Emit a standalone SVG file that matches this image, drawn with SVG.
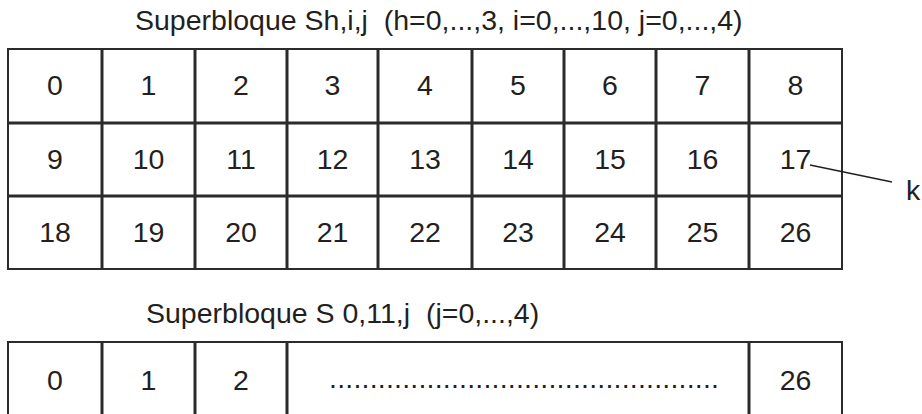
<svg xmlns="http://www.w3.org/2000/svg" width="922" height="414" viewBox="0 0 922 414">
<style>
text{font-family:"Liberation Sans",Arial,sans-serif;font-size:28.5px;fill:#231f20}
.c{text-anchor:middle}
.outer{fill:none;stroke:#2b2b2b;stroke-width:2}
.inner{stroke:#2b2b2b;stroke-width:3}
.lead{stroke:#231f20;stroke-width:1.5;fill:none}
</style>
<rect width="922" height="414" fill="#ffffff"/>
<g id="title1"><text x="135" y="30" xml:space="preserve">Superbloque Sh,i,j  (h=0,...,3, i=0,...,10, j=0,...,4)</text></g>
<g id="table1">
<rect class="outer" x="8" y="49" width="834" height="220"/>
<g class="inner">
<line x1="102" y1="49" x2="102" y2="269"/>
<line x1="195" y1="49" x2="195" y2="269"/>
<line x1="287" y1="49" x2="287" y2="269"/>
<line x1="378" y1="49" x2="378" y2="269"/>
<line x1="472" y1="49" x2="472" y2="269"/>
<line x1="564" y1="49" x2="564" y2="269"/>
<line x1="656" y1="49" x2="656" y2="269"/>
<line x1="749" y1="49" x2="749" y2="269"/>
<line x1="8" y1="123" x2="842" y2="123"/>
<line x1="8" y1="196" x2="842" y2="196"/>
</g>
<g class="c">
<text x="55" y="95">0</text><text x="148.5" y="95">1</text><text x="241" y="95">2</text><text x="332.5" y="95">3</text><text x="425" y="95">4</text><text x="518" y="95">5</text><text x="610" y="95">6</text><text x="702.5" y="95">7</text><text x="795.5" y="95">8</text>
<text x="55" y="169">9</text><text x="148.5" y="169">10</text><text x="241" y="169">11</text><text x="332.5" y="169">12</text><text x="425" y="169">13</text><text x="518" y="169">14</text><text x="610" y="169">15</text><text x="702.5" y="169">16</text><text x="795.5" y="169">17</text>
<text x="55" y="242">18</text><text x="148.5" y="242">19</text><text x="241" y="242">20</text><text x="332.5" y="242">21</text><text x="425" y="242">22</text><text x="518" y="242">23</text><text x="610" y="242">24</text><text x="702.5" y="242">25</text><text x="795.5" y="242">26</text>
</g>
</g>
<g id="connectors"><line class="lead" x1="810" y1="165" x2="892" y2="182"/></g>
<g id="label-k"><text x="906" y="200">k</text></g>
<g id="title2"><text x="146" y="323" xml:space="preserve">Superbloque S 0,11,j  (j=0,...,4)</text></g>
<g id="table2">
<path class="outer" d="M8,416 V342 H842 V416"/>
<g class="inner">
<line x1="102" y1="342" x2="102" y2="416"/>
<line x1="195" y1="342" x2="195" y2="416"/>
<line x1="287" y1="342" x2="287" y2="416"/>
<line x1="749" y1="342" x2="749" y2="416"/>
</g>
<g class="c">
<text x="55" y="390">0</text><text x="148.5" y="390">1</text><text x="241" y="390">2</text>
<text x="524" y="388" textLength="390" lengthAdjust="spacing">................................................</text>
<text x="795.5" y="390">26</text>
</g>
</g>
</svg>
